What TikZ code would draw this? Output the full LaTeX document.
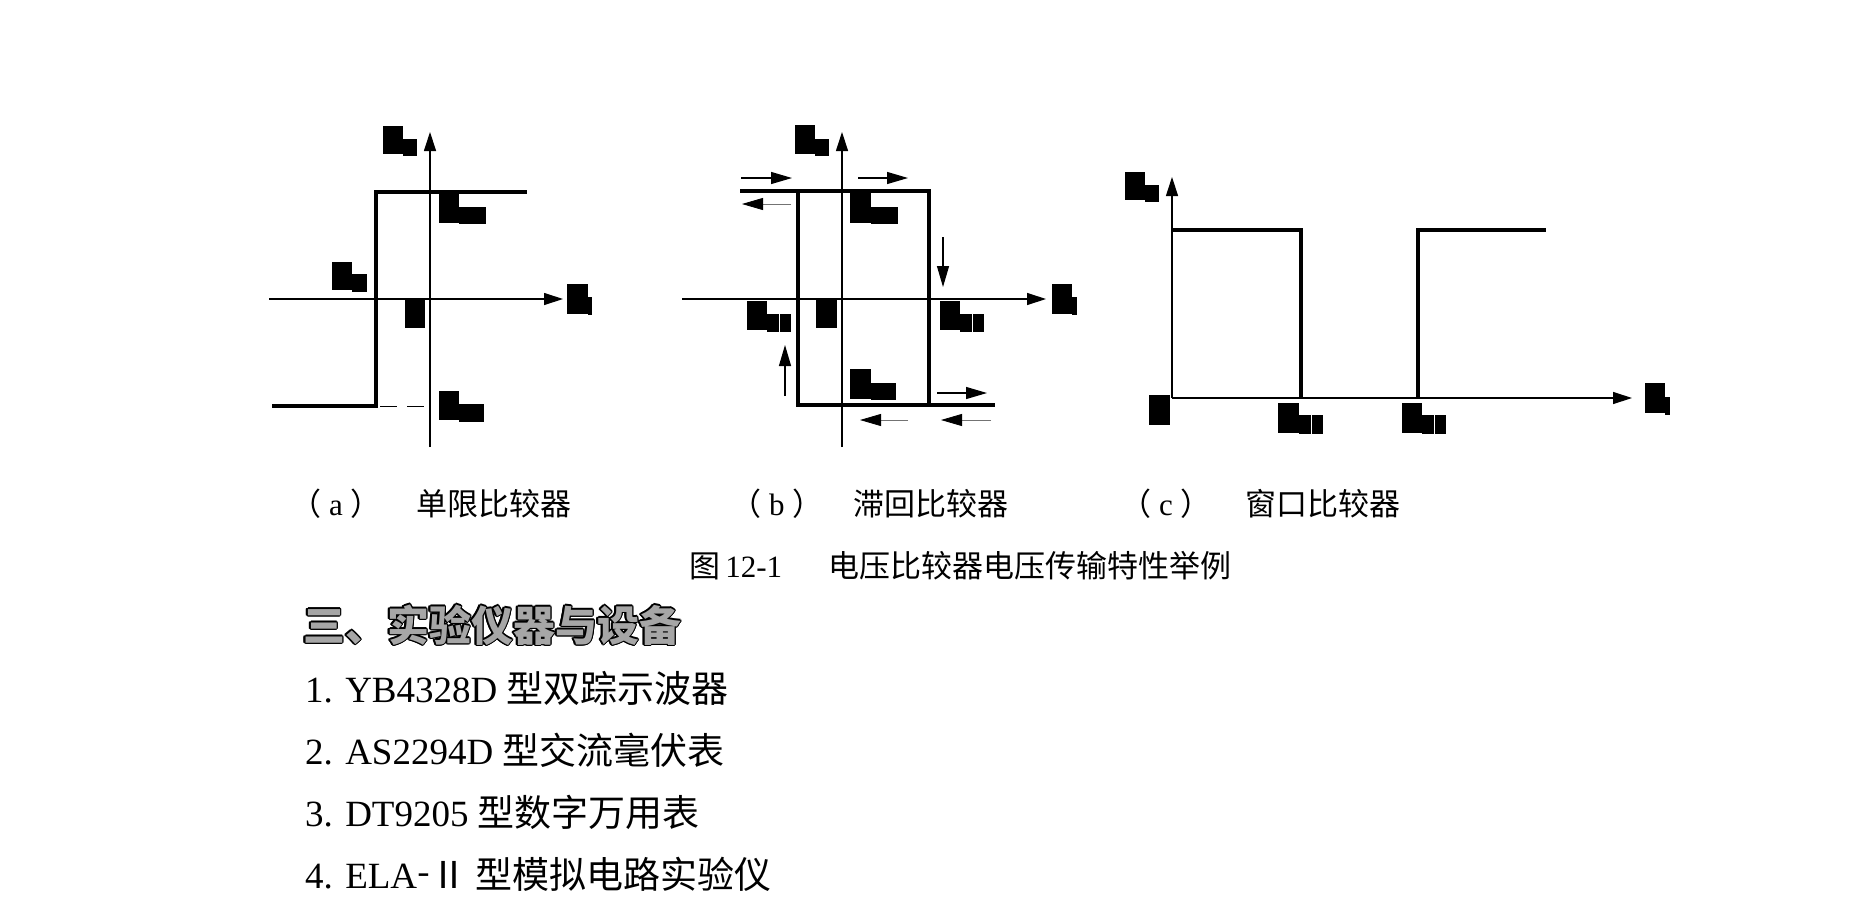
\documentclass[tikz,border=0pt]{standalone}
\usepackage{fontspec}
\setmainfont{Liberation Serif}
\newfontfamily\cjk{Noto Sans CJK SC}
\newfontfamily\lat{Liberation Serif}
\usetikzlibrary{arrows.meta}
\tikzset{
  axisline/.style={line width=1.2pt,-{Triangle[length=19pt,width=12pt]}},
  curveline/.style={line width=4pt,line join=miter,line cap=butt},
  darr/.style={line width=1.2pt,-{Triangle[length=21pt,width=12pt]}},
  garr/.style={line width=0.8pt,draw=black!55,-{Triangle[length=21pt,width=12pt,color=black]}},
  blk/.style={fill=black},
  sub/.style={inner sep=0pt,anchor=west,font=\fontsize{31}{36}\selectfont},
  hd/.style={inner sep=0pt,anchor=west,font=\cjk\bfseries\fontsize{42}{48}\selectfont},
  item/.style={inner sep=0pt,anchor=base west,font=\fontsize{37}{44}\selectfont},
}
\newcommand{\parlbl}[1]{\cjk（\hspace{8pt}\lat{#1}\hspace{8pt}\cjk）}
\begin{document}
\begin{tikzpicture}[x=1pt,y=-1pt]
\fill[white] (0,0) rectangle (1863,900);
\useasboundingbox (0,0) rectangle (1863,900);

% ---------------- (a) ----------------
\coordinate (aO) at (430,299);
\coordinate (aYb) at (430,447);
\coordinate (aYt) at (430,132);
\coordinate (aXl) at (269,299);
\coordinate (aXr) at (563,299);
\draw[axisline] (aYb) -- (aYt);
\draw[axisline] (aXl) -- (aXr);
\draw[curveline] (272,406) -- (376,406) -- (376,192) -- (527,192);
\draw[line width=1pt,dash pattern=on 17pt off 10pt] (380,406) -- (426,406);
\fill[blk] (383,126) rectangle (403,154); \fill[blk] (403,139) rectangle (417,156);
\fill[blk] (439,193) rectangle (459,223); \fill[blk] (459,207) rectangle (486,224);
\fill[blk] (332,262) rectangle (352,290); \fill[blk] (352,274) rectangle (367,292);
\fill[blk] (405,298) rectangle (425,328);
\fill[blk] (567,284) rectangle (588,314); \fill[blk] (588,297) rectangle (592,315);
\fill[blk] (439,391) rectangle (459,420); \fill[blk] (459,404) rectangle (484,422);

% ---------------- (b) ----------------
\coordinate (bYb) at (842,447);
\coordinate (bYt) at (842,132);
\coordinate (bXl) at (682,299);
\coordinate (bXr) at (1046,299);
\draw[axisline] (bYb) -- (bYt);
\draw[axisline] (bXl) -- (bXr);
\draw[curveline] (740,191) -- (929,191) -- (929,405);
\draw[curveline] (798,191) -- (798,405) -- (995,405);
\coordinate (b1s) at (741,178); \coordinate (b1e) at (792,178);
\coordinate (b2s) at (791,204); \coordinate (b2e) at (742,204);
\coordinate (b3s) at (858,178); \coordinate (b3e) at (908,178);
\coordinate (b4s) at (943,237); \coordinate (b4e) at (943,287);
\coordinate (b5s) at (785,396); \coordinate (b5e) at (785,345);
\coordinate (b6s) at (937,393); \coordinate (b6e) at (987,393);
\coordinate (b7s) at (908,420); \coordinate (b7e) at (860,420);
\coordinate (b8s) at (991,420); \coordinate (b8e) at (941,420);
\draw[darr] (b1s) -- (b1e);
\draw[garr] (b2s) -- (b2e);
\draw[darr] (b3s) -- (b3e);
\draw[darr] (b4s) -- (b4e);
\draw[darr] (b5s) -- (b5e);
\draw[darr] (b6s) -- (b6e);
\draw[garr] (b7s) -- (b7e);
\draw[garr] (b8s) -- (b8e);
\fill[blk] (795,125) rectangle (815,154); \fill[blk] (815,139) rectangle (829,156);
\fill[blk] (850,193) rectangle (871,223); \fill[blk] (871,207) rectangle (898,224);
\fill[blk] (747,301) rectangle (767,330); \fill[blk] (767,314) rectangle (778.5,332); \fill[blk] (779.5,314) rectangle (791,332);
\fill[blk] (816,299) rectangle (837,328);
\fill[blk] (940,301) rectangle (960,330); \fill[blk] (960,314) rectangle (971.5,332); \fill[blk] (972.5,314) rectangle (984,332);
\fill[blk] (850,369) rectangle (871,399); \fill[blk] (871,383) rectangle (896,400);
\fill[blk] (1052,284) rectangle (1072,314); \fill[blk] (1072,297) rectangle (1077,315);

% ---------------- (c) ----------------
\coordinate (cO) at (1172,398);
\coordinate (cYt) at (1172,177);
\coordinate (cXr) at (1632,398);
\draw[axisline] (cO) -- (cYt);
\draw[axisline] (cO) -- (cXr);
\draw[curveline] (1172,230) -- (1301,230) -- (1301,398);
\draw[curveline] (1418,398) -- (1418,230) -- (1546,230);
\fill[blk] (1125,172) rectangle (1145,200); \fill[blk] (1145,185) rectangle (1159,202);
\fill[blk] (1149,395) rectangle (1170,425);
\fill[blk] (1278,403) rectangle (1299,433); \fill[blk] (1299,415) rectangle (1310.5,434); \fill[blk] (1311.5,415) rectangle (1323,434);
\fill[blk] (1402,403) rectangle (1422,433); \fill[blk] (1422,415) rectangle (1433.5,434); \fill[blk] (1434.5,415) rectangle (1446,434);
\fill[blk] (1645,383) rectangle (1665,413); \fill[blk] (1665,397) rectangle (1670,415);

% ---------------- captions ----------------
\node[sub] (capa) at (290,503.5) {\parlbl{a}};
\node[sub] (capat) at (416,503.5) {\cjk 单限比较器};
\node[sub] (capb) at (730,503.5) {\parlbl{b}};
\node[sub] (capbt) at (853,503.5) {\cjk 滞回比较器};
\node[sub] (capc) at (1120,503.5) {\parlbl{c}};
\node[sub] (capct) at (1245,503.5) {\cjk 窗口比较器};
\node[sub] (fig) at (689,566) {\cjk 图\lat{\,12-1}};
\node[sub] (figt) at (828,566) {\cjk 电压比较器电压传输特性举例};

% ---------------- heading (outlined) ----------------
\foreach \a in {0,30,...,330}
  \node[hd,text=black] (hdo\a) at ([shift={(\a:1.4)}]303,625) {三、实验仪器与设备};
\node[hd,text=black!35] (head) at (303,625) {三、实验仪器与设备};

% ---------------- list ----------------
\node[item] (it1) at (305,702) {\lat 1. YB4328D \cjk 型双踪示波器};
\node[item] (it2) at (305,764) {\lat 2. AS2294D \cjk 型交流毫伏表};
\node[item] (it3) at (305,826) {\lat 3. DT9205 \cjk 型数字万用表};
\node[item] (it4) at (305,888) {\lat 4. ELA\raisebox{3pt}{\cjk -}\cjk Ⅱ 型模拟电路实验仪};
\end{tikzpicture}
\end{document}
